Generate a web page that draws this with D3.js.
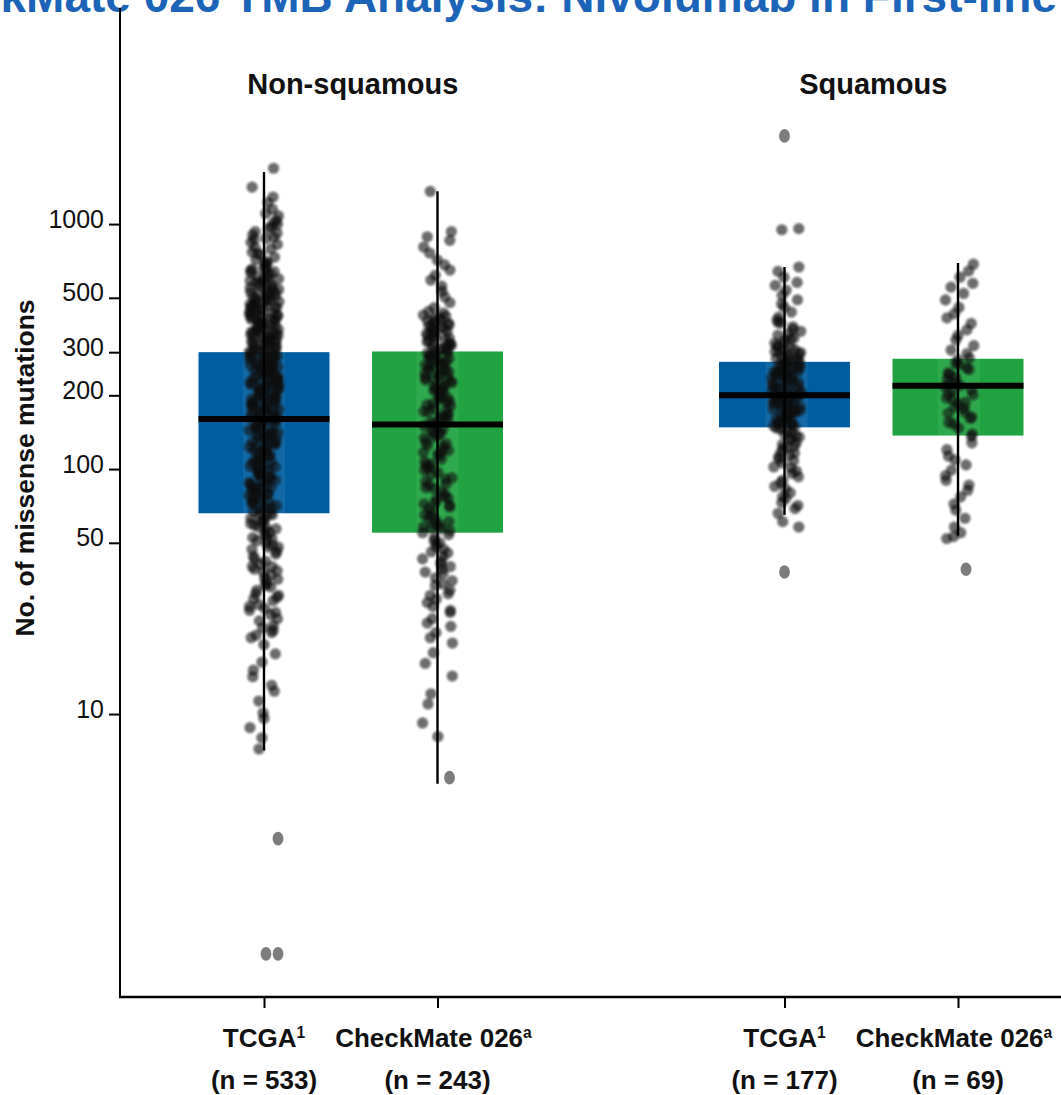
<!DOCTYPE html>
<html>
<head>
<meta charset="utf-8">
<script src="https://cdn.jsdelivr.net/npm/d3@7"></script>
<style>
  html, body { margin: 0; padding: 0; background: #fff; overflow: hidden; }
  svg { display: block; }
</style>
</head>
<body>
<svg id="chart" width="1061" height="1095"></svg>
<script>
// ---- data ----
const titleText = "CheckMate 026 TMB Analysis: Nivolumab in First-line";
const groupLabels = ["Non-squamous", "Squamous"];
const cohortNames = ["TCGA", "CheckMate 026", "TCGA", "CheckMate 026"];
const cohortMarks = ["1", "a", "1", "a"];
const cohortN = [533, 243, 177, 69];
const yTicks = [10, 50, 100, 200, 300, 500, 1000];

// box statistics (missense mutations)
const q1 = [66, 55, 148, 137];
const median = [160, 152, 200, 219];
const q3 = [300, 302, 274, 282];
const whiskerLow = [7.1, 5.2, 65, 53.6];
const whiskerHigh = [1630, 1360, 668, 694];

// individual patients (missense mutations)
const nsTcgaPoints = [
  1690, 1415, 1290, 1225, 1150, 1105, 1080, 1035, 1012, 998,
  975, 962, 931, 918, 902, 884, 866, 842, 826, 803, 792, 768, 751, 733, 716, 697, 688, 664, 648, 633,
  611, 604, 587, 571, 566, 548, 541, 527, 519, 508, 503, 874, 757, 652, 583,
  497, 486, 479, 468, 463, 451, 447, 436, 429, 421, 413, 409, 398, 391, 386, 377, 369, 364, 356, 349,
  344, 337, 333, 327, 321, 314, 311, 306, 301, 466, 412, 373, 341, 317, 454, 394, 358, 329, 482, 427,
  297, 295, 289, 286, 281, 274, 271, 269, 263, 261, 254, 251, 247, 241, 239, 233, 231, 227, 221, 219,
  213, 211, 205, 203, 199, 194, 193, 187, 186, 181, 178, 177, 172, 171, 167, 166, 162, 161, 288, 256,
  228, 207, 191, 174, 276, 243, 217, 197, 183, 265,
  158, 156, 150, 149, 144, 141, 139, 135, 134, 129, 127, 123, 121, 117, 116, 111, 109, 105, 103, 99,
  98, 94, 92, 89, 88, 85, 84, 81, 79, 77, 76, 73, 72, 69, 68, 66, 153, 137, 122, 107, 95, 82, 71, 146,
  126, 101, 87, 78, 114, 97,
  65, 62, 61, 58, 57, 54, 53, 50, 49, 46, 45, 42, 41, 39, 37, 36, 34, 33, 31, 30, 28, 27, 25.5, 24.5,
  23, 22, 21, 20.5, 59, 52, 47, 43, 38, 35, 32, 29, 26, 48, 40, 63,
  19.2, 17.6, 16.3, 15.1, 14.2, 13.1, 12.4, 11.3, 10.1, 9.6, 8.8, 8.0, 7.2,
  620, 595, 558, 533, 515, 492, 474, 458, 441, 432, 418, 404, 389, 381, 371, 362, 352, 346, 339, 331,
  324, 318, 309, 303, 298, 292, 284, 278, 273, 266, 259, 253, 248, 244, 236, 232, 225, 223, 215, 209,
  201, 196, 189, 184, 179, 175, 169, 164, 159, 154, 147, 143, 138, 132, 128, 124, 119, 113, 110, 106,
  102, 96, 93, 90, 86, 83, 80, 75, 74, 70, 67, 64, 60, 56, 55, 51, 48, 44, 40, 38.5, 35.5, 33.5, 30.5,
  29.5, 27.5, 26.5, 24, 22.5, 21.5,
  700, 678, 655, 640, 626, 598, 578, 561, 545, 536, 524, 511, 499, 484, 471, 459, 449, 438, 426, 417,
  407, 399, 388, 380, 368, 359, 351, 343, 335, 326, 312, 304, 290, 282, 270, 262, 249, 237, 224, 212,
  198, 185, 173, 163, 152, 140, 131, 118, 108, 100, 91, 84, 79, 73, 65.5, 61.5, 57.5, 52.5
];
const nsCm026Points = [
  1360, 932, 887, 858, 806, 762, 713, 682, 649, 618, 591, 558, 532, 504, 478, 456, 433, 421,
  411, 403, 393, 384, 377, 367, 361, 353, 346, 337, 331, 324, 319, 311, 307, 302, 396, 371, 349, 322,
  297, 291, 283, 279, 270, 266, 257, 253, 245, 241, 233, 229, 221, 217, 209, 205, 197, 193, 185, 181,
  174, 171, 164, 161, 157, 153, 288, 262, 236, 214, 189, 168,
  148, 144, 137, 134, 127, 124, 117, 114, 107, 104, 99, 97, 91, 89, 83, 81, 76, 75, 70, 69, 64, 62,
  59, 58, 56, 141, 119, 102, 86, 72, 63, 57,
  54, 51, 49.5, 47, 45.5, 43, 41, 39, 37.5, 35, 33.5, 31, 29.5, 27.5, 26.5, 24.5, 22.8, 20.5, 17.8,
  16.1, 14.3, 12.1, 11.0, 9.2, 8.1,
  440, 425, 415, 405, 398, 388, 380, 372, 364, 357, 350, 342, 334, 327, 320, 314, 308, 304, 299, 293,
  286, 280, 274, 268, 261, 255, 249, 243, 237, 231, 225, 219, 212, 207, 201, 195, 188, 183, 177, 172,
  166, 162, 155, 150, 146, 140, 135, 129, 125, 120, 115, 110, 105, 101, 95, 92, 87, 84, 79, 77,
  73, 71, 67, 65, 61, 59.5, 57.5, 55, 52.5, 50, 48, 46, 44, 42, 40, 38, 36, 34, 32, 30.5,
  28.5, 26, 23.5, 21.5, 19.5
];
const sqTcgaPoints = [
  958, 948, 668, 641, 607, 578, 562, 537, 512, 491, 472, 458, 437, 417, 406, 396, 381, 365, 357, 343,
  336, 328, 319, 313, 306, 299, 293, 287, 283, 278,
  273, 269, 265, 259, 257, 251, 249, 243, 241, 235, 233, 227, 225, 219, 217, 211, 209, 204, 202, 266,
  250, 238, 226, 214, 258,
  198, 196, 191, 190, 185, 184, 179, 178, 173, 172, 167, 166, 161, 160, 155, 154, 151, 149, 194, 181,
  170, 163, 152, 187, 175,
  146, 141, 135, 132, 126, 123, 117, 116, 110, 106, 102, 98, 93, 90, 85, 80, 77, 73, 69, 66, 61, 58,
  395, 372, 352, 340, 326, 316, 308, 302, 296, 290, 285, 280, 276, 271, 267, 262, 254, 246, 239, 231,
  223, 216, 207, 200, 197, 192, 188, 182, 176, 171, 164, 158, 153, 150, 147, 143, 139, 134, 128, 121,
  114, 108, 101, 96, 88, 83, 76, 71, 300, 244, 210, 186, 168, 137, 124, 112
];
const sqCm026Points = [
  686, 643, 607, 573, 553, 521, 490, 457, 431, 414, 393, 370, 351, 337, 319, 306, 296, 284, 279, 271,
  267, 259, 255, 247, 244, 237, 234, 227, 225, 219, 217, 211, 209, 203, 201, 195, 193, 187, 185, 179,
  177, 171, 169, 163, 161, 155, 153, 147, 139, 136, 128, 120, 113, 109, 104, 99, 94, 90, 86, 82,
  77, 72, 68, 63, 58, 55, 53, 52
];
// values plotted as solid outlier dots
const nsTcgaOutliers = [3.1, 1.05, 1.05];
const nsCm026Outliers = [5.5];
const sqTcgaOutliers = [2290, 38];
const sqCm026Outliers = [39];

const cohortPoints = [nsTcgaPoints, nsCm026Points, sqTcgaPoints, sqCm026Points];
const cohortOutliers = [nsTcgaOutliers, nsCm026Outliers, sqTcgaOutliers, sqCm026Outliers];

// ---- layout & style ----
const slot = [0, 1, 3, 4];                    // slot 2 is the gap between the two histologies
const boxColors = ["#005ea0", "#20a340", "#005ea0", "#20a340"];
const jitterHalf = [15, 15, 15, 15];
const jitterShift = [0, 0, 2, 1];
const outlierShift = [14, 12, 0, 8];
const FONT = "'Liberation Sans', Arial, Helvetica, sans-serif";

const svg = d3.select("#chart");
const y = d3.scaleLog().domain([0.7, 7620]).range([997, 8]);
const x = d3.scaleLinear().domain([0, 4]).range([264, 958]);
const boxW = 131;

const defs = svg.append("defs");
defs.append("filter").attr("id", "soft")
  .attr("x", "-20%").attr("y", "-5%").attr("width", "140%").attr("height", "110%")
  .append("feGaussianBlur").attr("stdDeviation", 0.9);

// deterministic horizontal jitter in [-1, 1]
const jit = i => { const s = Math.sin(i * 127.1 + 311.7) * 43758.5453; return (s - Math.floor(s)) * 2 - 1; };

// title (runs past the page edges)
svg.append("text")
  .attr("x", -112).attr("y", 12)
  .attr("font-family", FONT).attr("font-weight", "bold").attr("font-size", 46)
  .attr("fill", "#1b64b7")
  .text(titleText);

// group headers
svg.append("g").selectAll("text").data(groupLabels).join("text")
  .attr("x", (d, g) => (x(slot[2 * g]) + x(slot[2 * g + 1])) / 2 + 2)
  .attr("y", 94)
  .attr("text-anchor", "middle")
  .attr("font-family", FONT).attr("font-weight", "bold").attr("font-size", 29)
  .attr("fill", "#111")
  .text(d => d);

// cohorts
const cohorts = svg.append("g").selectAll("g").data(d3.range(4)).join("g");

cohorts.append("rect")
  .attr("x", c => x(slot[c]) - boxW / 2)
  .attr("width", boxW)
  .attr("y", c => y(q3[c]))
  .attr("height", c => y(q1[c]) - y(q3[c]))
  .attr("fill", c => boxColors[c]);

// faint light strip behind each point cloud
cohorts.append("rect")
  .attr("x", c => x(slot[c]) + jitterShift[c] - jitterHalf[c] - 6)
  .attr("width", c => 2 * jitterHalf[c] + 12)
  .attr("y", c => y(d3.max(cohortPoints[c])) - 8)
  .attr("height", c => y(d3.min(cohortPoints[c])) - y(d3.max(cohortPoints[c])) + 16)
  .attr("fill", "#ffffff").attr("opacity", 0.07);

cohorts.append("g")
  .attr("filter", "url(#soft)")
  .selectAll("circle")
  .data(c => cohortPoints[c].map((v, i) => ({ v, c, i })))
  .join("circle")
  .attr("cx", d => x(slot[d.c]) + jitterShift[d.c] + jit(d.i + d.c * 1000) * jitterHalf[d.c])
  .attr("cy", d => y(d.v))
  .attr("r", 5.6)
  .attr("fill", "#121212")
  .attr("fill-opacity", 0.62);

cohorts.append("g").selectAll("ellipse")
  .data(c => cohortOutliers[c].map((v, i, arr) => ({ v, c, k: arr.slice(0, i).filter(u => u === v).length })))
  .join("ellipse")
  .attr("cx", d => x(slot[d.c]) + outlierShift[d.c] - d.k * 12)
  .attr("cy", d => y(d.v))
  .attr("rx", 5.4).attr("ry", 6.8)
  .attr("fill", "#7c7c7c");

cohorts.append("line")
  .attr("x1", c => x(slot[c])).attr("x2", c => x(slot[c]))
  .attr("y1", c => y(whiskerHigh[c])).attr("y2", c => y(whiskerLow[c]))
  .attr("stroke", "#000").attr("stroke-width", 2.4);

cohorts.append("line")
  .attr("x1", c => x(slot[c]) - boxW / 2).attr("x2", c => x(slot[c]) + boxW / 2)
  .attr("y1", c => y(median[c])).attr("y2", c => y(median[c]))
  .attr("stroke", "#000").attr("stroke-width", 6);

// y axis
const gy = svg.append("g").attr("transform", "translate(119,0)")
  .call(d3.axisLeft(y).tickValues(yTicks).tickFormat(d3.format("d")).tickSize(10).tickPadding(5));
gy.select(".domain").remove();
gy.selectAll(".tick line").attr("stroke", "#000").attr("stroke-width", 2);
gy.selectAll(".tick text")
  .attr("font-family", FONT).attr("font-size", 25).attr("fill", "#111").attr("dy", "0.12em");

svg.append("line").attr("x1", 120).attr("x2", 120).attr("y1", 8).attr("y2", 998)
  .attr("stroke", "#000").attr("stroke-width", 2);

svg.append("text")
  .attr("transform", "translate(34,468) rotate(-90)")
  .attr("text-anchor", "middle")
  .attr("font-family", FONT).attr("font-weight", "bold").attr("font-size", 26.5)
  .attr("fill", "#111")
  .text("No. of missense mutations");

// x axis
const gx = svg.append("g").attr("transform", "translate(0,997)")
  .call(d3.axisBottom(x).tickValues(slot).tickFormat("").tickSize(11).tickSizeOuter(0));
gx.select(".domain").remove();
gx.selectAll(".tick line").attr("stroke", "#000").attr("stroke-width", 2);
svg.append("line").attr("x1", 119).attr("x2", 1061).attr("y1", 997).attr("y2", 997)
  .attr("stroke", "#000").attr("stroke-width", 2.4);

const names = svg.append("g").selectAll("text").data(d3.range(4)).join("text")
  .attr("x", c => x(slot[c]) - (c % 2) * 4)
  .attr("y", 1047)
  .attr("text-anchor", "middle")
  .attr("font-family", FONT).attr("font-weight", "bold").attr("font-size", 26)
  .attr("fill", "#111")
  .text(c => cohortNames[c]);
names.append("tspan").attr("dy", "-0.55em").attr("font-size", "0.6em").text(c => cohortMarks[c]);

svg.append("g").selectAll("text").data(d3.range(4)).join("text")
  .attr("x", c => x(slot[c]))
  .attr("y", 1089)
  .attr("text-anchor", "middle")
  .attr("font-family", FONT).attr("font-weight", "bold").attr("font-size", 26)
  .attr("fill", "#111")
  .text(c => `(n = ${cohortN[c]})`);
</script>
</body>
</html>
